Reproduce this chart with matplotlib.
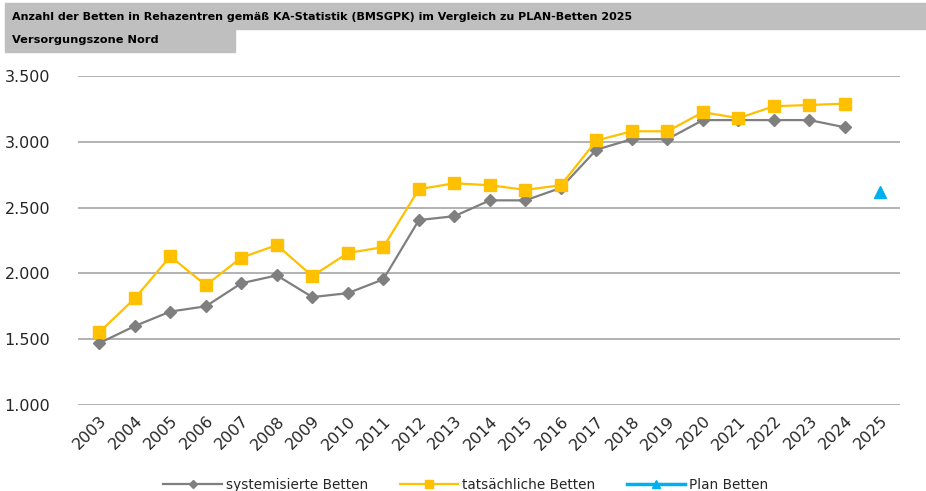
import matplotlib.pyplot as plt
import numpy as np
from matplotlib.patches import Rectangle
from matplotlib.lines import Line2D
from matplotlib.ticker import FuncFormatter

# data
years = [str(y) for y in range(2003, 2026)]
systemisiert = [1470, 1600, 1710, 1750, 1925, 1985, 1820, 1850, 1955, 2405, 2435,
                2555, 2555, 2650, 2940, 3020, 3020, 3165, 3165, 3165, 3165, 3110]
tatsaechlich = [1553, 1810, 2130, 1910, 2120, 2215, 1980, 2155, 2200, 2640, 2685,
                2670, 2635, 2670, 3010, 3080, 3080, 3225, 3180, 3270, 3280, 3290]
plan_year = ['2025']
plan = [2615]

title = "Anzahl der Betten in Rehazentren gemäß KA-Statistik (BMSGPK) im Vergleich zu PLAN-Betten 2025"
subtitle = "Versorgungszone Nord"

grey = '#7f7f7f'
yellow = '#FFC000'
blue = '#00B0F0'
txt_color = '#262626'

plt.rcParams.update({'font.family': 'DejaVu Sans', 'font.size': 11})

fig = plt.figure(figsize=(9.26, 4.91), dpi=100)
ax = fig.add_axes([78 / 926, 1 - 405 / 491, 822 / 926, 329 / 491])

x = np.arange(len(years))
ax.plot(x[:len(systemisiert)], systemisiert, color=grey, lw=1.6, marker='D',
        ms=6, label='systemisierte Betten', zorder=3)
ax.plot(x[:len(tatsaechlich)], tatsaechlich, color=yellow, lw=1.6, marker='s',
        ms=8, label='tatsächliche Betten', zorder=4)
ax.plot([years.index(y) for y in plan_year], plan, color=blue, lw=2.5, marker='^',
        ms=9, ls='none', label='Plan Betten', zorder=5)

ax.set_xlim(-0.6, len(years) - 0.45)
ax.set_ylim(1000, 3500)
ax.set_yticks(np.arange(1000, 3501, 500))
ax.yaxis.set_major_formatter(FuncFormatter(lambda v, p: '{:,.0f}'.format(v).replace(',', '.')))
ax.set_xticks(x)
ax.set_xticklabels(years, rotation=45, ha='right', rotation_mode='anchor')
ax.tick_params(axis='both', length=0, colors=txt_color, labelsize=11.5)
ax.tick_params(axis='y', pad=20)
ax.tick_params(axis='x', pad=6)
ax.grid(axis='y', color='#a6a6a6', lw=1.2)
ax.set_axisbelow(True)
for s in ax.spines.values():
    s.set_visible(False)

# legend entries drawn as line with marker in the middle
labels = ['systemisierte Betten', 'tatsächliche Betten', 'Plan Betten']
handles = [Line2D([], [], color=grey, lw=1.6, marker='D', ms=4),
           Line2D([], [], color=yellow, lw=1.6, marker='s', ms=6),
           Line2D([], [], color=blue, lw=2.5, marker='^', ms=6)]
fig.legend(handles, labels, loc='center', bbox_to_anchor=(466 / 926, 1 - 485 / 491),
           ncol=3, frameon=False, handlelength=4.3, columnspacing=2.3,
           handletextpad=0.3, fontsize=9.8, labelcolor=txt_color)

# title boxes
fig.patches.append(Rectangle((5 / 926, 1 - 29 / 491), 921 / 926, 26 / 491,
                             transform=fig.transFigure, color='#bfbfbf', zorder=0))
fig.patches.append(Rectangle((5 / 926, 1 - 52 / 491), 230 / 926, 23 / 491,
                             transform=fig.transFigure, color='#bfbfbf', zorder=0))
fig.text(12 / 926, 1 - 17 / 491, title, fontsize=8, fontweight='bold',
         va='center', ha='left', color='black')
fig.text(12 / 926, 1 - 40 / 491, subtitle, fontsize=8.2, fontweight='bold',
         va='center', ha='left', color='black')

fig.savefig('out.png', dpi=100)
